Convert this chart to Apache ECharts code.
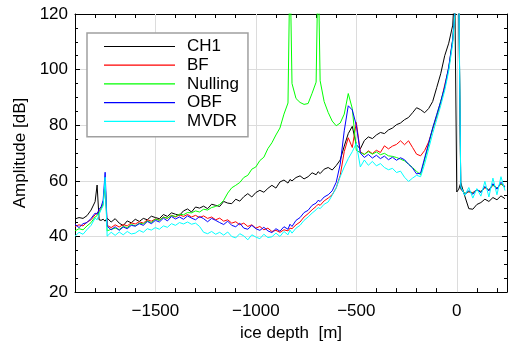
<!DOCTYPE html>
<html><head><meta charset="utf-8">
<script src="https://cdn.jsdelivr.net/npm/echarts@6/dist/echarts.min.js"></script>
<style>html,body{margin:0;padding:0;background:#fff}#c{width:510px;height:347px}</style>
</head><body><div id="c"></div>
<script>
const depth = [-1900,-1880,-1860,-1840,-1820,-1800,-1790,-1780,-1770,-1760,
-1750,-1740,-1720,-1700,-1680,-1660,-1640,-1620,-1600,-1580,
-1560,-1540,-1520,-1500,-1480,-1460,-1440,-1420,-1400,-1380,
-1360,-1340,-1320,-1300,-1280,-1260,-1240,-1220,-1200,-1180,
-1160,-1140,-1120,-1100,-1080,-1060,-1040,-1020,-1000,-980,
-960,-940,-920,-900,-880,-860,-840,-830,-820,-800,
-780,-760,-740,-720,-700,-690,-680,-660,-640,-620,
-600,-580,-560,-540,-520,-500,-480,-460,-440,-420,
-400,-380,-360,-340,-320,-300,-280,-260,-240,-220,
-200,-180,-160,-140,-120,-100,-80,-60,-40,-20,
-10,0,10,20,40,60,80,100,120,140,
160,180,200,220,240];

const ch1 = [46.3,46.8,46.5,47.5,49.5,52.5,58.5,46.0,45.8,46.2,
45.5,46.6,45.2,46.4,44.8,43.9,45.6,44.9,46.2,45.4,
46.5,46.0,47.3,46.8,46.4,47.9,47.2,48.5,48.0,47.6,
49.2,49.9,48.8,50.6,50.2,50.9,50.0,51.6,51.2,50.8,
52.6,52.0,51.8,53.4,52.7,54.3,55.4,54.2,55.8,56.6,
55.9,57.3,58.4,57.4,59.6,60.3,59.2,60.5,60.0,61.2,
61.8,60.7,61.5,62.9,62.2,63.3,62.6,64.2,64.8,63.9,
65.5,67.5,72.5,77.0,79.6,73.0,71.5,74.5,75.8,75.2,
76.5,77.4,77.0,78.3,79.0,80.2,80.8,82.0,82.8,84.5,
86.3,85.6,84.5,86.0,88.5,93.5,98.5,105.0,109.5,116.0,
130,56.0,57.0,59.3,54.5,50.0,49.8,51.5,52.2,53.4,
52.6,54.0,53.2,54.6,53.6];

const bf = [43.6,44.2,43.8,45.2,46.0,47.8,48.5,49.2,50.2,52.0,
59.6,44.0,43.2,44.2,43.4,44.3,43.8,44.9,44.5,45.3,
44.8,46.0,45.5,46.3,45.9,47.0,46.5,47.6,47.0,47.8,
47.2,47.9,47.0,47.6,46.8,47.4,46.5,47.0,46.0,46.6,
45.5,46.0,44.8,45.3,44.2,44.8,43.6,44.2,43.0,43.6,
42.4,43.0,41.8,42.2,41.5,42.4,42.0,43.0,42.8,44.2,
45.2,47.0,48.2,49.6,50.8,51.6,51.2,52.8,53.8,55.0,
57.5,62.0,70.5,75.5,72.0,81.0,70.5,69.5,70.8,69.8,
71.0,70.2,72.6,71.5,72.5,73.1,74.4,73.0,74.4,72.0,
69.6,69.0,70.9,74.0,78.5,83.0,88.0,94.5,100.5,110.5,
120,132,127,57.0,55.5,56.0,55.8,56.8,56.2,57.5,
56.8,58.4,57.4,58.8,58.0];

const nulling = [42.0,42.8,42.4,43.8,45.0,47.0,47.5,48.6,49.8,51.5,
60.0,42.0,42.6,43.0,42.5,43.6,43.2,44.4,43.8,44.8,
44.5,45.6,45.0,46.2,45.8,46.9,46.6,47.5,47.2,48.0,
47.8,48.6,48.5,49.2,48.8,49.8,49.5,50.4,50.8,51.5,
53.0,55.6,57.5,58.4,59.4,61.2,62.0,64.2,65.0,67.3,
68.5,71.6,73.7,76.5,79.0,84.0,88.0,140,95.0,89.6,
88.2,87.5,87.8,91.5,95.5,140,96.0,88.5,84.6,81.5,
79.8,80.8,84.0,91.4,86.0,71.0,70.2,69.5,70.5,69.6,
70.4,69.4,69.9,69.0,68.8,68.4,67.8,67.2,66.0,64.8,
63.4,62.2,67.5,73.0,78.8,83.5,88.6,93.5,100.5,110.8,
120.2,132,127,57.2,55.4,56.2,55.5,56.6,56.0,57.8,
56.6,58.6,57.2,59.0,57.6];

const obf = [44.4,43.2,44.6,45.0,46.5,48.4,48.0,49.8,50.7,53.0,
63.1,43.7,42.4,43.5,42.2,43.4,42.8,44.0,43.7,44.6,
44.0,45.4,44.6,45.8,45.2,46.6,45.6,47.2,46.3,47.0,
46.2,47.4,46.6,46.0,47.2,46.4,45.3,46.5,45.8,45.0,
44.3,45.5,44.0,43.5,44.8,43.0,42.6,44.0,42.8,42.2,
43.3,42.0,41.4,42.8,41.9,43.5,42.6,44.4,43.6,45.8,
46.8,48.6,49.4,51.2,52.0,53.0,52.6,54.2,55.0,56.4,
59.5,66.0,78.0,87.0,85.5,80.0,70.0,68.4,69.5,68.2,
69.2,68.0,68.9,67.6,68.5,67.4,68.3,67.6,66.0,64.6,
62.5,62.8,68.2,73.5,79.0,83.8,88.5,93.8,101.0,111.0,
120.5,132,128,57.5,55.0,56.5,55.2,57.0,55.8,58.0,
56.4,59.0,57.0,59.5,57.8];

const mvdr = [40.1,41.5,40.8,42.5,44.0,46.6,46.0,48.0,49.7,51.0,
61.3,40.1,41.5,40.4,41.6,40.6,41.8,40.9,41.2,42.2,
41.5,42.8,42.3,43.2,42.6,43.8,43.3,44.6,44.0,45.0,
44.5,45.2,44.4,44.8,43.6,41.5,41.0,41.8,40.8,41.5,
40.5,41.6,40.0,39.5,41.0,40.2,38.8,40.6,39.8,39.2,
40.8,39.6,39.9,41.2,40.0,41.8,40.6,42.3,41.2,43.0,
44.0,45.8,47.0,48.4,49.6,50.4,50.0,51.6,52.4,54.8,
57.5,61.5,65.0,68.0,70.5,73.5,65.0,67.5,65.6,67.0,
65.4,66.2,64.8,64.0,64.5,63.0,63.5,61.3,59.8,61.0,
62.0,61.5,66.0,71.5,77.0,82.0,87.0,92.5,99.5,109.5,
119.5,133,130,58.0,54.8,57.6,53.8,57.2,54.5,59.8,
54.2,61.0,55.0,61.5,56.5];

const seriesNames = ['CH1','BF','Nulling','OBF','MVDR'];
const seriesColors = ['#000000','#ff0000','#00ff00','#0000ff','#00ffff'];
const seriesValues = [ch1, bf, nulling, obf, mvdr];
const xGridValues = [-1500,-1000,-500,0];

const fontFam = '"Liberation Sans", Arial, sans-serif';
const chart = echarts.init(document.getElementById('c'));
const fmtX = v => (v % 500 === 0) ? (v < 0 ? '\u2212' + Math.abs(v) : String(v)) : '';

const series = [{
  type: 'line', name: '_grid', data: [], z: 1, silent: true,
  markLine: {
    silent: true, symbol: 'none', label: {show: false}, z: 1,
    lineStyle: {color: '#dcdcdc', width: 1, type: 'solid'},
    data: xGridValues.map(v => ({xAxis: v}))
  }
}];
seriesNames.forEach((n, i) => {
  series.push({
    type: 'line', name: n, symbol: 'none', animation: false,
    data: depth.map((d, j) => [d, seriesValues[i][j]]),
    lineStyle: {width: 1, color: seriesColors[i]},
    itemStyle: {color: seriesColors[i]},
    z: 2 + i
  });
});

const axisCommonX = {
  type: 'value', min: -1900, max: 250, interval: 100,
  axisLine: {show: true, onZero: false, lineStyle: {color: '#000', width: 1}},
  axisTick: {show: true, inside: true, length: 4, lineStyle: {color: '#000'}},
  splitLine: {show: false}
};
const axisCommonY = {
  type: 'value', min: 20, max: 120, interval: 20,
  axisLine: {show: true, onZero: false, lineStyle: {color: '#000', width: 1}},
  axisTick: {show: true, inside: true, length: 5, lineStyle: {color: '#000'}},
  minorTick: {show: true, splitNumber: 4, length: 3, lineStyle: {color: '#000'}}
};

chart.setOption({
  animation: false,
  textStyle: {fontFamily: fontFam},
  grid: {left: 75, right: 1, top: 14, bottom: 50},
  legend: {
    data: seriesNames,
    orient: 'vertical', left: 87, top: 33,
    padding: [5, 9, 7, 17],
    itemGap: 1.7, itemWidth: 71, itemHeight: 1.2, icon: 'rect',
    backgroundColor: '#fff', borderColor: '#a0a0a0', borderWidth: 1.5, borderRadius: 0,
    textStyle: {fontSize: 17, color: '#000', fontFamily: fontFam, lineHeight: 17, padding: [0, 0, 0, 7]}
  },
  xAxis: [
    Object.assign({}, axisCommonX, {
      position: 'bottom',
      name: 'ice depth  [m]', nameLocation: 'middle', nameGap: 24,
      nameTextStyle: {fontSize: 17, color: '#000', fontFamily: fontFam},
      axisLabel: {show: true, formatter: fmtX, fontSize: 17, color: '#000', margin: 11, fontFamily: fontFam, showMinLabel: false}
    }),
    Object.assign({}, axisCommonX, {position: 'top', axisLabel: {show: false}})
  ],
  yAxis: [
    Object.assign({}, axisCommonY, {
      position: 'left',
      name: 'Amplitude [dB]', nameLocation: 'middle', nameGap: 46,
      nameTextStyle: {fontSize: 17, color: '#000', fontFamily: fontFam},
      axisLabel: {show: true, fontSize: 17, color: '#000', margin: 7, fontFamily: fontFam, padding: [4, 0, 0, 0]},
      splitLine: {show: true, lineStyle: {color: '#dcdcdc', width: 1}}
    }),
    Object.assign({}, axisCommonY, {position: 'right', axisLabel: {show: false}, splitLine: {show: false}})
  ],
  series: series
});
</script></body></html>
